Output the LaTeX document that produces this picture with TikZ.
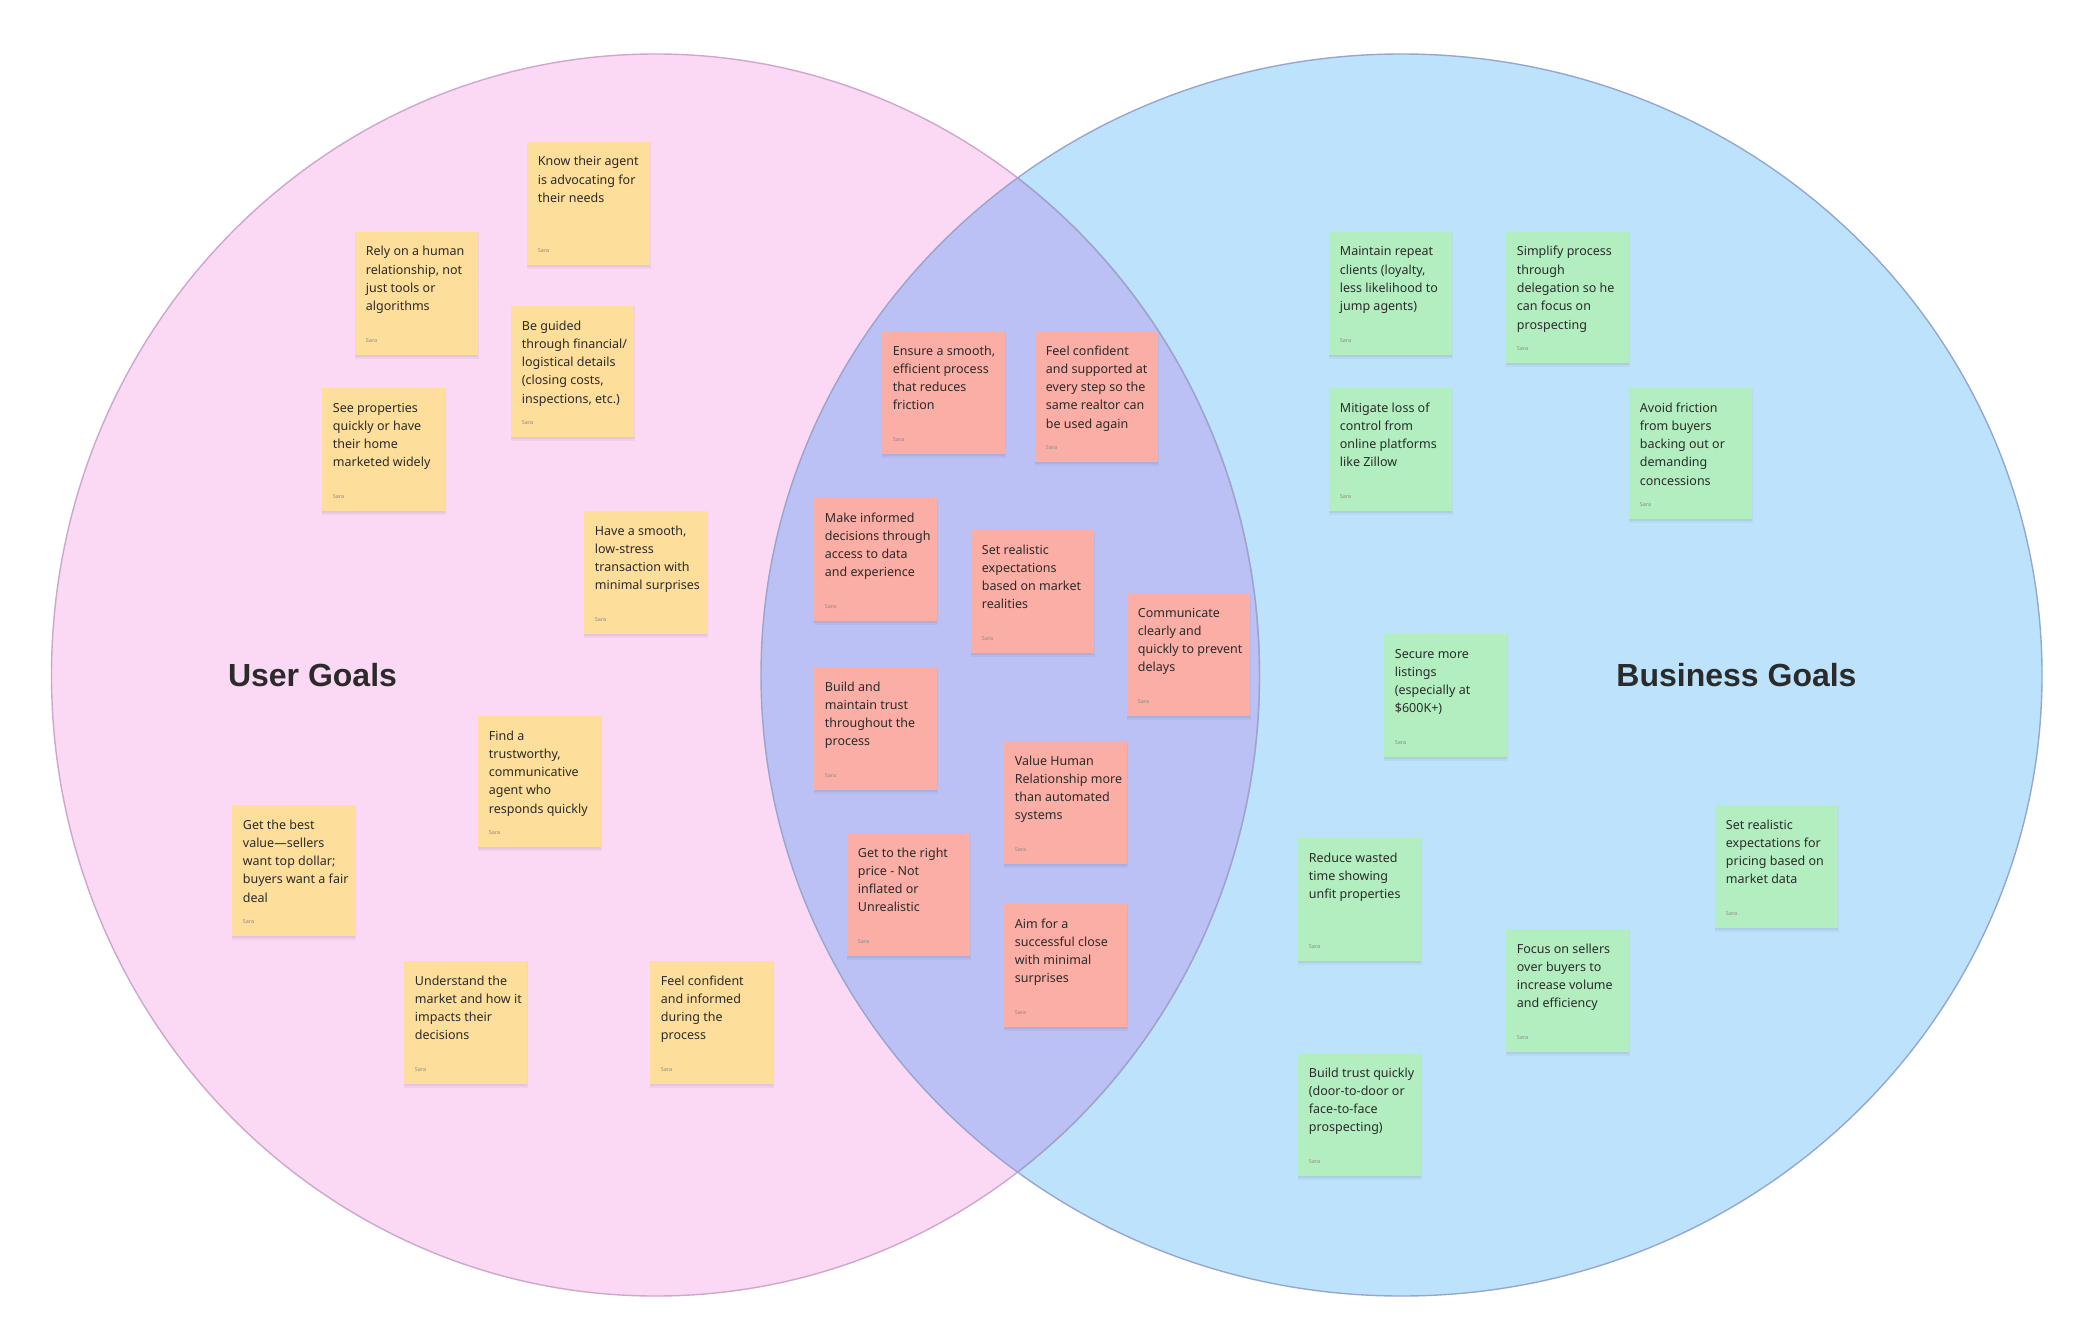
\documentclass[tikz,border=0pt]{standalone}
\usepackage{fontspec}
\setmainfont{Noto Sans}
\newfontfamily\titlefont{Liberation Sans}
\definecolor{pinkbg}{HTML}{FBD8F4}
\definecolor{bluebg}{HTML}{BDE3FC}
\definecolor{lavbg}{HTML}{BBC1F4}
\definecolor{pinkline}{HTML}{CFA6CC}
\definecolor{blueline}{HTML}{96A6CF}
\definecolor{yel}{HTML}{FDDE9B}
\definecolor{red}{HTML}{FBAEA5}
\definecolor{grn}{HTML}{B3EEC0}
\definecolor{txt}{HTML}{2B2B2B}
\definecolor{saragray}{HTML}{8C8C8C}
\newcommand{\stickynote}[6]{%
  \fill[black, opacity=0.04] (#3-0.5,#4+1) rectangle (#3+123.5,#4+#5+4);
  \fill[black, opacity=0.05] (#3,#4+1) rectangle (#3+123,#4+#5+2);
  \node[stickybox, fill=#2, minimum height=#5pt, anchor=north west] (#1) at (#3,#4) {};
  \node[stickytext, anchor=base west] (#1-text) at ([xshift=10.7pt,yshift=-24pt]#1.north west) {\parbox[t]{112pt}{\raggedright #6}};
  \node[saralabel, anchor=base west] (#1-sara) at ([xshift=10.7pt,yshift=12.5pt]#1.south west) {Sara};
}
\begin{document}
\begin{tikzpicture}[x=1pt,y=-1pt,
  stickybox/.style={rectangle, inner sep=0pt, minimum width=123pt, draw=none},
  stickytext/.style={inner sep=0pt, text=txt, font=\fontsize{12.5}{18.3}\selectfont},
  saralabel/.style={inner sep=0pt, text=saragray, font=\fontsize{5.5}{6}\selectfont},
  goaltitle/.style={inner sep=0pt, text=txt, font=\titlefont\bfseries\fontsize{32}{36}\selectfont}]
\useasboundingbox (0,0) rectangle (2076,1332);
\fill[white] (0,0) rectangle (2076,1332);
% circles
\fill[pinkbg] (655.5,675) ellipse [x radius=604, y radius=621];
\fill[bluebg] (1401.5,675) ellipse [x radius=640.5, y radius=621];
\begin{scope}
  \clip (655.5,675) ellipse [x radius=604, y radius=621];
  \fill[lavbg] (1401.5,675) ellipse [x radius=640.5, y radius=621];
\end{scope}
\draw[pinkline, line width=1.4pt] (655.5,675) ellipse [x radius=604, y radius=621];
\begin{scope}
  \clip (1401.5,675) ellipse [x radius=640.5, y radius=621];
  \draw[blueline, line width=1.4pt] (655.5,675) ellipse [x radius=604, y radius=621];
\end{scope}
\draw[blueline, line width=1.4pt] (1401.5,675) ellipse [x radius=640.5, y radius=621];
% titles
\node[goaltitle] (usergoals) at (312.5,675) {User Goals};
\node[goaltitle] (businessgoals) at (1736.5,675) {Business Goals};
% yellow
\stickynote{y1}{yel}{527}{142}{123}{Know their agent\\is advocating for\\their needs}
\stickynote{y2}{yel}{355}{232}{123}{Rely on a human\\relationship, not\\just tools or\\algorithms}
\stickynote{y3}{yel}{511}{306}{131}{Be guided\\through financial/\\logistical details\\(closing costs,\\inspections, etc.)}
\stickynote{y4}{yel}{322}{388}{123}{See properties\\quickly or have\\their home\\marketed widely}
\stickynote{y5}{yel}{584}{511}{123}{Have a smooth,\\low-stress\\transaction with\\minimal surprises}
\stickynote{y6}{yel}{478}{716}{131}{Find a\\trustworthy,\\communicative\\agent who\\responds quickly}
\stickynote{y7}{yel}{232}{805}{131}{Get the best\\value—sellers\\want top dollar;\\buyers want a fair\\deal}
\stickynote{y8}{yel}{404}{961}{123}{Understand the\\market and how it\\impacts their\\decisions}
\stickynote{y9}{yel}{650}{961}{123}{Feel confident\\and informed\\during the\\process}
% red
\stickynote{r1}{red}{882}{331}{123}{Ensure a smooth,\\efficient process\\that reduces\\friction}
\stickynote{r2}{red}{1035}{331}{131}{Feel confident\\and supported at\\every step so the\\same realtor can\\be used again}
\stickynote{r3}{red}{814}{498}{123}{Make informed\\decisions through\\access to data\\and experience}
\stickynote{r4}{red}{971}{530}{123}{Set realistic\\expectations\\based on market\\realities}
\stickynote{r5}{red}{1127}{593}{123}{Communicate\\clearly and\\quickly to prevent\\delays}
\stickynote{r6}{red}{814}{667}{123}{Build and\\maintain trust\\throughout the\\process}
\stickynote{r7}{red}{1004}{741}{123}{Value Human\\Relationship more\\than automated\\systems}
\stickynote{r8}{red}{847}{833}{123}{Get to the right\\price - Not\\inflated or\\Unrealistic}
\stickynote{r9}{red}{1004}{904}{123}{Aim for a\\successful close\\with minimal\\surprises}
% green
\stickynote{g1}{grn}{1329}{232}{123}{Maintain repeat\\clients (loyalty,\\less likelihood to\\jump agents)}
\stickynote{g2}{grn}{1506}{232}{131}{Simplify process\\through\\delegation so he\\can focus on\\prospecting}
\stickynote{g3}{grn}{1329}{388}{123}{Mitigate loss of\\control from\\online platforms\\like Zillow}
\stickynote{g4}{grn}{1629}{388}{131}{Avoid friction\\from buyers\\backing out or\\demanding\\concessions}
\stickynote{g5}{grn}{1384}{634}{123}{Secure more\\listings\\(especially at\\\$600K+)}
\stickynote{g6}{grn}{1715}{805}{123}{Set realistic\\expectations for\\pricing based on\\market data}
\stickynote{g7}{grn}{1298}{838}{123}{Reduce wasted\\time showing\\unfit properties}
\stickynote{g8}{grn}{1506}{929}{123}{Focus on sellers\\over buyers to\\increase volume\\and efficiency}
\stickynote{g9}{grn}{1298}{1053}{123}{Build trust quickly\\(door-to-door or\\face-to-face\\prospecting)}
\end{tikzpicture}
\end{document}
